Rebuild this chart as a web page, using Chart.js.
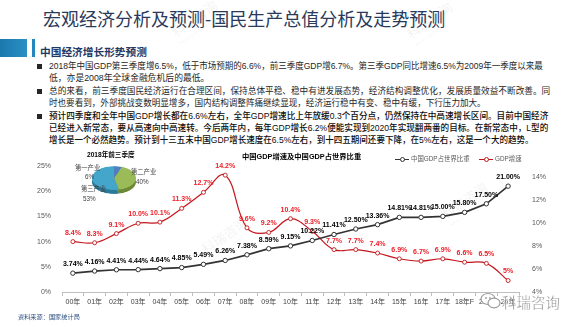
<!DOCTYPE html>
<html><head><meta charset="utf-8">
<script src="https://cdn.jsdelivr.net/npm/chart.js@4.4.1/dist/chart.umd.min.js"></script>
<style>
html,body{margin:0;padding:0;background:#fff;}
#page{position:relative;width:580px;height:327px;overflow:hidden;background:#fff;font-family:"Liberation Sans","Noto Sans CJK SC",sans-serif;}
.abs{position:absolute;white-space:nowrap;}
.ln{position:absolute;white-space:nowrap;font-size:8.8px;line-height:12px;height:12px;color:#262626;transform-origin:0 50%;}
.b3{color:#0d0d0d;font-weight:500;}
.sq{position:absolute;width:5px;height:5px;background:#262626;}
.wm{position:absolute;color:rgba(120,120,120,0.10);font-family:"Noto Sans CJK SC";transform:rotate(-35deg);white-space:nowrap;}
.pl{position:absolute;white-space:nowrap;font-size:6.3px;line-height:8px;color:#404040;}
</style></head><body>
<div id="page">
  <div class="wm" style="left:170px;top:8px;font-size:13px;">科瑞咨询<div style="font-size:5px;font-family:'Liberation Sans'">Kerui Consulting</div></div>
  <div class="wm" style="left:405px;top:10px;font-size:13px;">科瑞咨询<div style="font-size:5px;font-family:'Liberation Sans'">Kerui Consulting</div></div>
  <div class="wm" style="left:200px;top:225px;font-size:13px;">科瑞咨询<div style="font-size:5px;font-family:'Liberation Sans'">Kerui Consulting</div></div>
  <div class="wm" style="left:440px;top:190px;font-size:13px;">科瑞咨询<div style="font-size:5px;font-family:'Liberation Sans'">Kerui Consulting</div></div>

  <div class="abs" id="title" style="left:43px;top:6px;font-size:18px;line-height:24px;color:#2a3a5a;font-family:'Noto Sans CJK SC';">宏观经济分析及预测-国民生产总值分析及走势预测</div>
  <div class="abs" style="left:0;top:39px;width:27px;height:18px;background:linear-gradient(90deg,#1b78ad,#2b8fc4);"></div>
  <div class="abs" style="left:32px;top:39px;width:2.5px;height:18px;background:#2487bd;"></div>
  <div class="abs" style="left:40px;top:45px;font-size:10.7px;line-height:14px;font-weight:bold;color:#1f3864;font-family:'Noto Sans CJK SC';">中国经济增长形势预测</div>

  <div class="sq" style="left:37px;top:63.5px;"></div>
  <div class="ln" data-end="543" style="left:49px;top:60px;">2018年中国GDP第三季度增6.5%，低于市场预期的6.6%，前三季度GDP增6.7%。第三季GDP同比增速6.5%为2009年一季度以来最</div>
  <div class="ln" style="left:49px;top:72px;">低，亦是2008年全球金融危机后的最低。</div>
  <div class="sq" style="left:37px;top:88.5px;"></div>
  <div class="ln" data-end="550" style="left:49px;top:85px;">总的来看，前三季度国民经济运行在合理区间，保持总体平稳、稳中有进发展态势，经济结构调整优化，发展质量效益不断改善。同</div>
  <div class="ln" data-end="486" style="left:49px;top:97px;">时也要看到，外部挑战变数明显增多，国内结构调整阵痛继续显现，经济运行稳中有变、稳中有缓，下行压力加大。</div>
  <div class="sq" style="left:37px;top:113.5px;"></div>
  <div class="ln b3" data-end="548" style="left:49px;top:110px;">预计四季度和全年中国GDP增长都在6.6%左右，全年GDP增速比上年放缓0.3个百分点，仍然保持在中高速增长区间。目前中国经济</div>
  <div class="ln b3" data-end="548" style="left:49px;top:122px;">已经进入新常态，要从高速向中高速转。今后两年内，每年GDP增长6.2%便能实现到2020年实现翻两番的目标。在新常态中，L型的</div>
  <div class="ln b3" data-end="533" style="left:49px;top:134px;">增长是一个必然趋势。预计到十三五末中国GDP增长速度在6.5%左右，到十四五期间还要下降，在5%左右，这是一个大的趋势。</div>

  <canvas id="main" width="580" height="327" style="position:absolute;left:0;top:0;"></canvas>
  <div class="abs" id="ctitle" style="left:242px;top:152px;font-size:7.3px;line-height:10px;font-weight:bold;color:#000;"></div>
  <div id="legend"></div>

  <div class="abs" id="ptitle" style="left:87px;top:150px;font-size:6.6px;line-height:9px;font-weight:bold;color:#000;"></div>
  <canvas id="pieSide" width="44" height="44" style="position:absolute;left:92px;top:160px;transform:scaleY(0.54);"></canvas>
  <canvas id="pieTop" width="44" height="44" style="position:absolute;left:92px;top:156px;transform:scaleY(0.54);"></canvas>
  <div id="pieLabels"></div>

  <div class="abs" style="left:18px;top:313px;font-size:6.2px;line-height:8px;color:#2a4d80;">资料来源：国家统计局</div>

  <svg class="abs" style="left:480px;top:292px;" width="22" height="18" viewBox="0 0 22 18">
    <ellipse cx="8" cy="7" rx="7" ry="5.5" fill="#fff" stroke="#9a9a9a" stroke-width="1.2"/>
    <ellipse cx="14" cy="11" rx="6" ry="4.8" fill="#fff" stroke="#9a9a9a" stroke-width="1.2"/>
    <circle cx="6" cy="6" r="0.9" fill="#9a9a9a"/><circle cx="10" cy="6" r="0.9" fill="#9a9a9a"/>
  </svg>
  <div class="abs" style="left:502px;top:292px;font-size:14.5px;line-height:20px;color:#8f8f8f;font-family:'Noto Sans CJK SC';-webkit-text-stroke:0.3px #fff;">科瑞咨询</div>
</div>

<script>
// ---------- data ----------
const categories = ['00年','01年','02年','03年','04年','05年','06年','07年','08年','09年','10年','11年','12年','13年','14年','15年','16年','17年','18年F','20年','25年'];
const shareName = '中国GDP占世界比重';
const growthName = 'GDP增速';
const shareValues = [3.74,4.16,4.41,4.44,4.64,4.85,5.49,6.26,7.38,8.59,9.15,10.22,11.41,12.50,13.36,14.81,14.81,15.00,15.80,17.50,21.00];
const growthValues = [8.4,8.3,9.1,10.0,10.1,11.3,12.7,14.2,9.6,9.2,10.4,9.3,7.7,7.7,7.4,6.9,6.7,6.9,6.6,6.5,5];
const shareLabels = shareValues.map(v => v.toFixed(2) + '%');
const growthLabels = ['8.4%','8.3%','9.1%','10.0%','10.1%','11.3%','12.7%','14.2%','9.6%','9.2%','10.4%','9.3%','7.7%','7.7%','7.4%','6.9%','6.7%','6.9%','6.6%','6.5%','5%'];
const leftTicks = [0,5,10,15,20,25];
const rightTicks = [4,6,8,10,12,14];
const chartTitle = '中国GDP增速及中国GDP占世界比重';

const pieTitle = '2018年前三季度';
const pieCategories = ['第一产业','第二产业','第三产业'];
const pieValues = [6,40,53];

// ---------- styles ----------
const FONT = '"Liberation Sans","Noto Sans CJK SC",sans-serif';
Chart.defaults.font.family = FONT;
const shareColor = '#333333';
const growthColor = '#c4161c';
const growthLabelColor = '#ee1c25';
const pieColors = ['#4f7fbd','#9bbb59','#45a6cc'];
const pieSideColors = ['#2f5586','#6c8a36','#2a7a99'];
const pieLabelPos = [
  {name:[75,164], val:[85,173]},
  {name:[131,168], val:[136,178]},
  {name:[81,185], val:[83,195]}
];

function fitLines(){
  document.querySelectorAll('.ln[data-end]').forEach(el=>{
    el.style.transform='none';
    const w = el.scrollWidth;
    const x = parseFloat(el.style.left);
    const target = parseFloat(el.dataset.end) - x;
    el.style.transform = 'scaleX(' + (target / w) + ')';
  });
}
fitLines();
if (document.fonts && document.fonts.ready) document.fonts.ready.then(fitLines);

document.getElementById('ctitle').textContent = chartTitle;
document.getElementById('ptitle').textContent = pieTitle;

(function(){
  const lg = document.getElementById('legend');
  const items = [
    {name: shareName, color: shareColor, x: 395},
    {name: growthName, color: growthColor, x: 479}
  ];
  items.forEach(it=>{
    const line = document.createElement('div');
    line.className='abs';
    line.style.cssText = `left:${it.x}px;top:158.5px;width:14px;height:1.3px;background:${it.color};`;
    lg.appendChild(line);
    const dot = document.createElement('div');
    dot.className='abs';
    dot.style.cssText = `left:${it.x+4.5}px;top:156.5px;width:3.5px;height:3.5px;border:0.9px solid ${it.color};border-radius:50%;background:#fff;`;
    lg.appendChild(dot);
    const t = document.createElement('div');
    t.className='abs';
    t.style.cssText = `left:${it.x+16}px;top:155px;font-size:6.4px;line-height:8px;color:#595959;`;
    t.textContent = it.name;
    lg.appendChild(t);
  });
})();

(function(){
  const c = document.getElementById('pieLabels');
  pieCategories.forEach((n,i)=>{
    const a = document.createElement('div');
    a.className='pl'; a.style.left=pieLabelPos[i].name[0]+'px'; a.style.top=pieLabelPos[i].name[1]+'px';
    a.textContent = n; c.appendChild(a);
    const b = document.createElement('div');
    b.className='pl'; b.style.left=pieLabelPos[i].val[0]+'px'; b.style.top=pieLabelPos[i].val[1]+'px';
    b.textContent = pieValues[i] + '%'; c.appendChild(b);
  });
})();

const labelSets = [shareLabels, growthLabels];
const labelColors = ['#000000', growthLabelColor];
const dataLabelPlugin = {
  id:'dataLabels',
  afterDatasetsDraw(chart){
    const ctx = chart.ctx;
    chart.data.datasets.forEach((ds,i)=>{
      const meta = chart.getDatasetMeta(i);
      ctx.save();
      ctx.font = 'bold 7px ' + FONT;
      ctx.fillStyle = labelColors[i];
      ctx.textAlign = 'center';
      ctx.textBaseline = 'middle';
      meta.data.forEach((pt,j)=>{
        ctx.fillText(labelSets[i][j], pt.x, pt.y - 9);
      });
      ctx.restore();
    });
  }
};

new Chart(document.getElementById('main'), {
  type:'line',
  data:{
    labels: categories,
    datasets:[
      {label: shareName, data: shareValues, yAxisID:'y', borderColor: shareColor, borderWidth:1.7,
       pointRadius:2.2, pointBackgroundColor:'#fff', pointBorderColor: shareColor, pointBorderWidth:1, tension:0, clip:false},
      {label: growthName, data: growthValues, yAxisID:'y1', borderColor: growthColor, borderWidth:1.2,
       pointRadius:2, pointBackgroundColor:'#fff', pointBorderColor: growthColor, pointBorderWidth:0.9, tension:0.4, clip:false}
    ]
  },
  options:{
    responsive:false, animation:false, devicePixelRatio:1,
    layout:{padding:{top:166,left:0,right:0,bottom:0}},
    plugins:{legend:{display:false}, title:{display:false}, tooltip:{enabled:false}},
    scales:{
      x:{
        offset:true,
        grid:{display:true, drawOnChartArea:false, drawTicks:true, tickLength:4, offset:true, color:'#bfbfbf', lineWidth:1},
        border:{display:true, color:'#bfbfbf', width:1},
        ticks:{font:{size:7}, color:'#404040', padding:2, maxRotation:0, autoSkip:false},
        afterFit(s){ s.height = 35; }
      },
      y:{
        position:'left', min:0, max:25,
        grid:{display:false}, border:{display:false},
        ticks:{stepSize:5, font:{size:7}, color:'#595959', padding:3, callback:v=>v+'%'},
        afterBuildTicks(s){ s.ticks = leftTicks.map(v=>({value:v})); },
        afterFit(s){ s.width = 62; }
      },
      y1:{
        position:'right', min:4, max:15,
        grid:{display:false}, border:{display:false},
        ticks:{stepSize:2, includeBounds:false, font:{size:7}, color:'#595959', padding:5, callback:v=>v+'%'},
        afterBuildTicks(s){ s.ticks = rightTicks.map(v=>({value:v})); },
        afterFit(s){ s.width = 61; }
      }
    }
  },
  plugins:[dataLabelPlugin]
});

function makePie(id, colors){
  new Chart(document.getElementById(id), {
    type:'pie',
    data:{labels: pieCategories, datasets:[{data: pieValues, backgroundColor: colors, borderWidth:0}]},
    options:{responsive:false, animation:false, devicePixelRatio:1,
      plugins:{legend:{display:false}, tooltip:{enabled:false}}, layout:{padding:0}}
  });
}
makePie('pieSide', pieSideColors);
makePie('pieTop', pieColors);
</script>
</body></html>
